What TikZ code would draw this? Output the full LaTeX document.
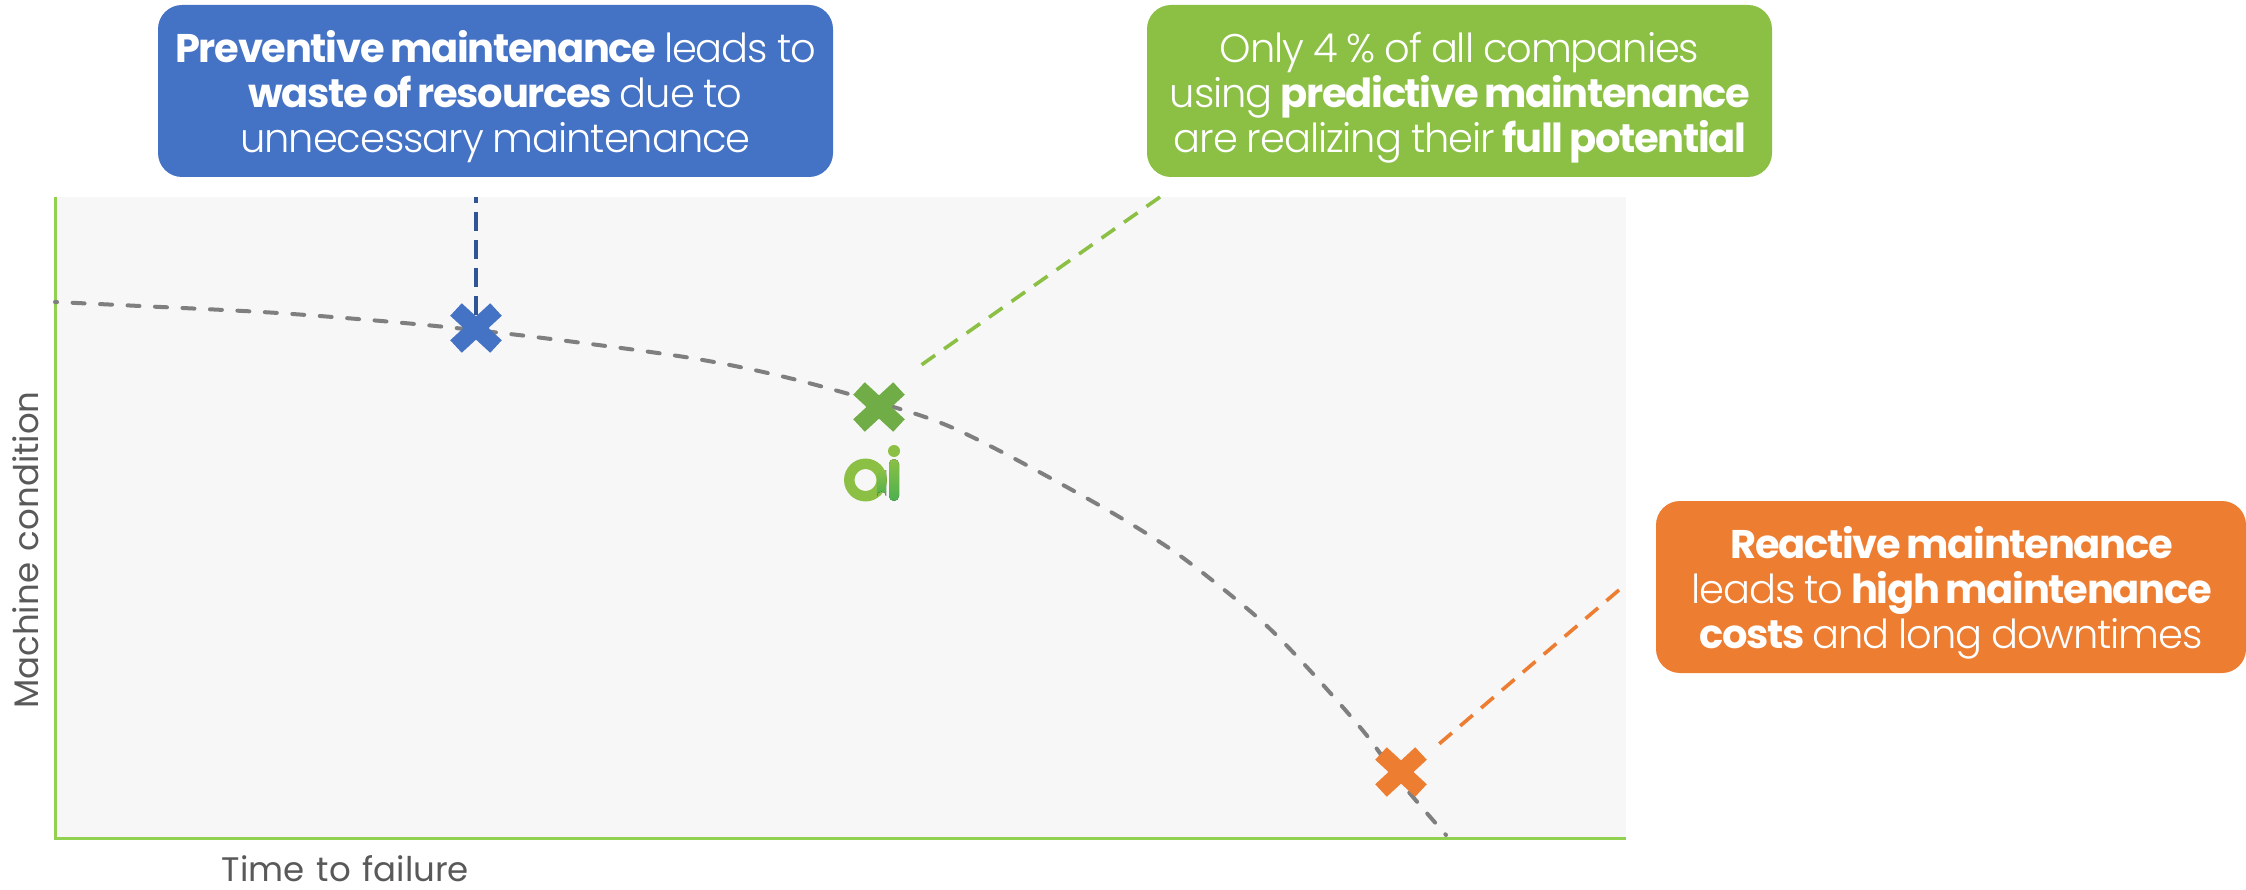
\documentclass[tikz,border=0pt]{standalone}
\usepackage{fontspec}
\setmainfont{Poppins}[UprightFont=* Light,BoldFont=* Bold,LetterSpace=-2.7,WordSpace=0.9,BoldFeatures={LetterSpace=-3.2,WordSpace=0.75}]
\newfontfamily\poppinsreg{Poppins}[WordSpace=1.3]
\definecolor{bluebox}{HTML}{4472C4}
\definecolor{greenbox}{HTML}{8BC045}
\definecolor{orangebox}{HTML}{ED7D31}
\definecolor{greenx}{HTML}{70AD47}
\definecolor{blueline}{HTML}{2F5597}
\definecolor{plotbg}{HTML}{F7F7F7}
\definecolor{axisgreen}{HTML}{92D050}
\definecolor{curvegray}{HTML}{7F7F7F}
\definecolor{labelgray}{HTML}{595959}
\definecolor{logotop}{HTML}{8BC045}
\definecolor{logobot}{HTML}{4CB050}
\newcommand{\topfill}{\rule{0pt}{44pt}}
\tikzset{
  callout/.style={rounded corners=24pt,text=white,align=center,inner sep=0pt,
    minimum height=172pt,font=\fontsize{40}{45}\selectfont},
  axislabel/.style={text=labelgray,inner sep=0pt,anchor=base,font=\poppinsreg\fontsize{34}{38}\selectfont},
  lead/.style={line width=3.6pt,dash pattern=on 16.5pt off 11pt},
  crossmark/.style={line width=17pt,line cap=butt},
}
\begin{document}
\begin{tikzpicture}[x=1pt,y=-1pt]
\useasboundingbox (0,0) rectangle (2246,890);
\fill[plotbg] (55,197) rectangle (1626,838);
\coordinate (axistop) at (55,197);
\coordinate (origin) at (55,838);
\coordinate (axisend) at (1626,838);
\draw[axisgreen,line width=3pt] (axistop) -- (origin) -- (axisend);
% curve
\draw[curvegray,line width=4pt,dash pattern=on 12pt off 15.5pt,dash phase=11pt,line cap=round]
  plot[smooth,tension=0.5] coordinates {(1446,835) (1403,785) (1364,732) (1304,664) (1257,617) (1179,555) (1104,508) (996,449) (925,417) (797,380) (691,358) (535,337) (415,324) (278,313) (140,306) (55,302)};
% lead coordinates
\coordinate (blueA) at (476,197);
\coordinate (blueB) at (476,328);
\coordinate (greenA) at (1160,197);
\coordinate (greenB) at (917,368);
\coordinate (orangeA) at (1619,590);
\coordinate (orangeB) at (1432,750);
\draw[line width=4pt,dash pattern=on 19pt off 9pt,dash phase=13pt,blueline] (blueA) -- (blueB);
\draw[lead,greenbox] (greenA) -- (greenB);
\draw[lead,orangebox] (orangeA) -- (orangeB);
% markers
\draw[crossmark,bluebox] (456,309.5) -- (496,346.5) (496,309.5) -- (456,346.5);
\draw[crossmark,greenx] (859,388.5) -- (899,425.5) (899,388.5) -- (859,425.5);
\draw[crossmark,orangebox] (1381,753.5) -- (1421,790.5) (1421,753.5) -- (1381,790.5);
% callouts
\node[callout,fill=bluebox,minimum width=675pt] (prev) at (495.5,91)
  {\topfill\textbf{Preventive maintenance} leads to\\\textbf{waste of resources} due to\\unnecessary maintenance};
\node[callout,fill=greenbox,minimum width=625pt] (pred) at (1459.5,91)
  {\topfill Only 4 \% of all companies\\using \textbf{predictive maintenance}\\are realizing their \textbf{full potential}};
\node[callout,fill=orangebox,minimum width=590pt] (reac) at (1951,587)
  {\topfill\textbf{Reactive maintenance}\\leads to \textbf{high maintenance}\\\textbf{costs} and long downtimes};
% labels
\node[axislabel,rotate=90] (ylab) at (38,550) {Machine condition};
\node[axislabel] (xlab) at (345.5,881) {Time to failure};
% ai logo
\draw[logotop,line width=10.5pt] (865.5,480) circle (16.2pt);
\fill[top color=logotop,bottom color=logobot] (877,470) -- (886,470) -- (886,496) arc (0:-180:4.5) -- cycle;
\fill[top color=logotop,bottom color=logobot,rounded corners=5pt] (889,459) rectangle (899,501);
\fill[logotop] (894,451) circle (6pt);
\end{tikzpicture}
\end{document}
